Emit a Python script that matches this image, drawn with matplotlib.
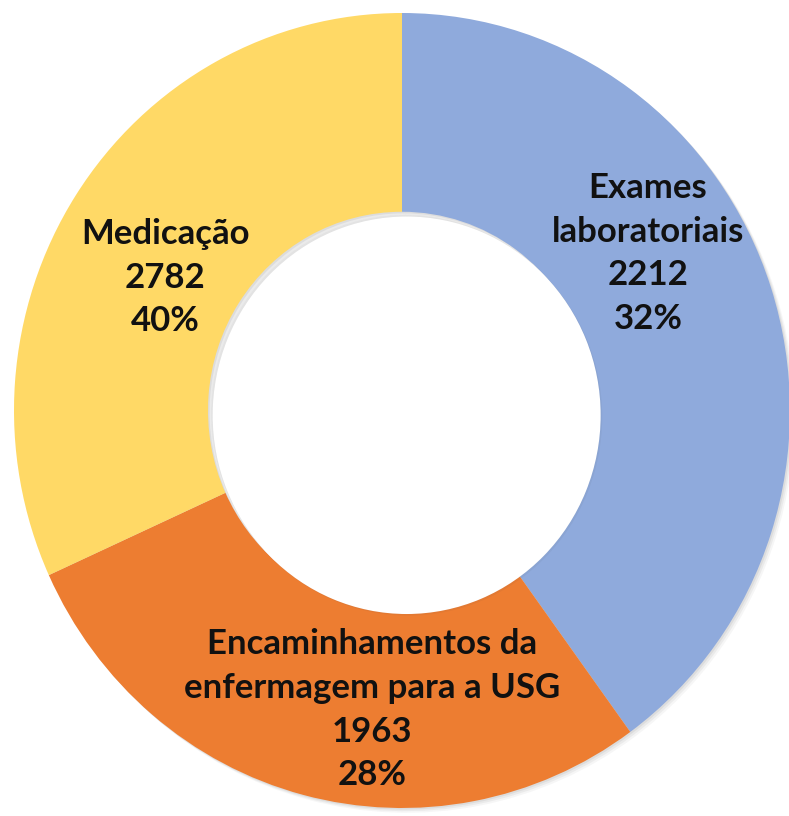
import numpy as np
import matplotlib.pyplot as plt
from matplotlib.patches import Wedge

# Data
labels = ['Exames\nlaboratoriais', 'Encaminhamentos da\nenfermagem para a USG', 'Medicação']
counts = [2212, 1963, 2782]
percents = ['32%', '28%', '40%']
# slice sizes as they are drawn in the reference (blue slice is the big one)
slice_sizes = [2782, 1963, 2212]
colors = ['#8FAADC', '#ED7D31', '#FFD966']

plt.rcParams['font.family'] = ['Lato', 'DejaVu Sans']

fig = plt.figure(figsize=(7.89, 8.16), dpi=100)
# axes box = bounding box of the (slightly stretched) donut
ax = fig.add_axes([14 / 789, (816 - 808) / 816, 776 / 789, 795 / 816])
ax.axis('off')

# soft drop shadow under the ring
for k, a in enumerate([0.05, 0.07, 0.09]):
    off = 0.004 * (3 - k)
    ax.pie(slice_sizes, radius=1.0, startangle=90, counterclock=False,
           colors=['#555555'] * 3, center=(off, -off),
           wedgeprops=dict(width=0.5, linewidth=0, alpha=a))

wedges, _ = ax.pie(slice_sizes, radius=1.0, startangle=90, counterclock=False,
                   colors=colors, wedgeprops=dict(width=0.5, linewidth=0))
ax.set_xlim(-1, 1)
ax.set_ylim(-1, 1)
ax.set_aspect('auto')

# inner shadow of the hole (upper left)
for k, a in enumerate([0.10, 0.08, 0.06]):
    ax.add_patch(Wedge((0.008 + 0.004 * k, -0.008 - 0.004 * k), 0.5, 0, 360,
                       width=0.012, facecolor='#444444', alpha=a, lw=0))
ax.add_patch(Wedge((0.012, -0.012), 0.5, 0, 360, facecolor='white', lw=0))

# label positions (data coords)
label_pos = [(0.634, 0.395), (-0.077, -0.753), (-0.61, 0.334)]
for name, n, p, (x, y) in zip(labels, counts, percents, label_pos):
    ax.text(x, y, f'{name}\n{n}\n{p}', ha='center', va='center',
            fontsize=25, fontweight='bold', color='#111111', linespacing=1.45)

fig.savefig('out.png', dpi=100)
